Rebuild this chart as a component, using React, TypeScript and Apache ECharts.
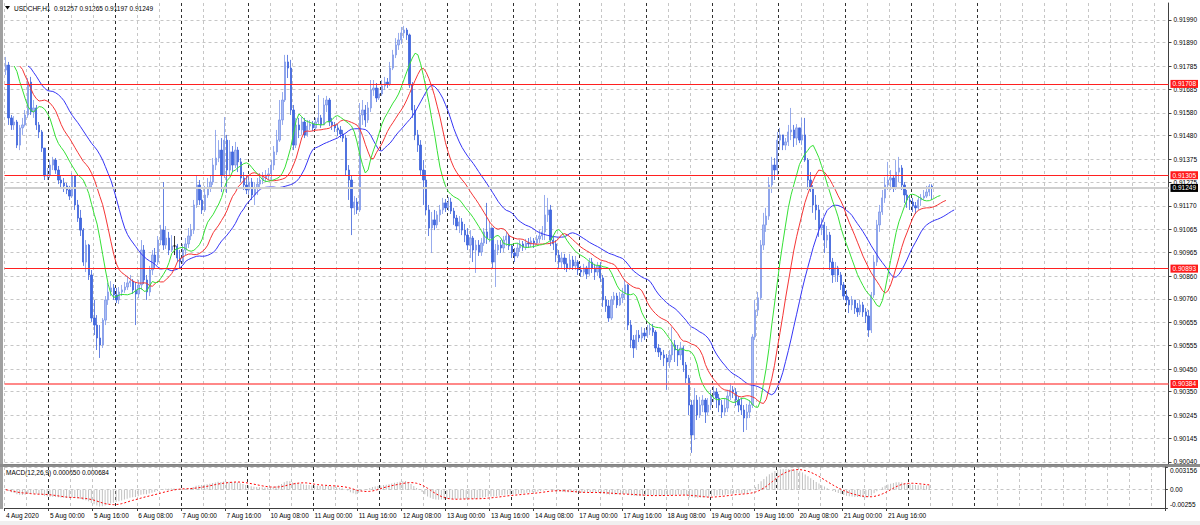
import React, { useEffect, useRef } from "react";
import * as echarts from "echarts";

const SYMBOL_TITLE = "USDCHF,H1  0.91257 0.91265 0.91197 0.91249";
const MACD_TITLE = "MACD(12,26,9) 0.000650 0.000684";

const TIME_LABELS = [
  "4 Aug 2020", "5 Aug 00:00", "5 Aug 16:00", "6 Aug 08:00", "7 Aug 00:00", "7 Aug 16:00",
  "10 Aug 08:00", "11 Aug 00:00", "11 Aug 16:00", "12 Aug 08:00", "13 Aug 00:00", "13 Aug 16:00",
  "14 Aug 08:00", "17 Aug 00:00", "17 Aug 16:00", "18 Aug 08:00", "19 Aug 00:00", "19 Aug 16:00",
  "20 Aug 08:00", "21 Aug 00:00", "21 Aug 16:00",
];
const LABEL_EVERY = 16; // bars between time labels
const TOTAL_SLOTS = 421; // bars + chart shift area

const Y_TICKS = [
  0.9004, 0.90145, 0.90245, 0.9035, 0.9045, 0.90555, 0.90655, 0.9076, 0.9086, 0.90965,
  0.91065, 0.9117, 0.91275, 0.91375, 0.9148, 0.9158, 0.91685, 0.91785, 0.9189, 0.9199,
];
const Y_MIN = 0.90031;
const Y_MAX = 0.92065;
const LEVELS = [0.91708, 0.91305, 0.90893, 0.90384];
const BID = 0.91249;
const MACD_TICKS = [-0.00255, 0, 0.003156];
const MACD_TICK_LABELS = ["-0.00255", "0.00", "0.003156"];

// prices in points (1e-5)
const OPEN_PTS = [
  91769, 91791, 91558, 91527, 91540, 91438, 91514, 91527, 91571, 91716, 91584, 91602, 91527, 91496, 91425, 91302, 91306, 91350, 91372, 91328, 91284, 91271, 91258, 91240,
  91213, 91302, 91174, 91116, 91063, 90922, 90997, 90865, 90675, 90644, 90587, 90556, 90666, 90755, 90790, 90808, 90777, 90755, 90790, 90799, 90812, 90830, 90838, 90799,
  90781, 90821, 90975, 90843, 90790, 90887, 90953, 90922, 91019, 91063, 90997, 91028, 90975, 90993, 90993, 90940, 90922, 90975, 91002, 91037, 91063, 91174, 91262, 91196,
  91152, 91218, 91253, 91275, 91350, 91381, 91416, 91306, 91460, 91328, 91408, 91350, 91416, 91364, 91293, 91262, 91240, 91275, 91218, 91249, 91266, 91284, 91293, 91302,
  91311, 91350, 91408, 91460, 91549, 91637, 91805, 91778, 91593, 91438, 91527, 91505, 91540, 91483, 91522, 91531, 91514, 91540, 91558, 91527, 91615, 91637, 91540, 91527,
  91514, 91505, 91487, 91469, 91328, 91284, 91161, 91187, 91152, 91571, 91593, 91549, 91602, 91681, 91690, 91646, 91664, 91699, 91716, 91708, 91778, 91836, 91880, 91902,
  91933, 91946, 91924, 91703, 91593, 91483, 91438, 91328, 91284, 91152, 91072, 91108, 91086, 91130, 91152, 91183, 91161, 91187, 91147, 91116, 91081, 91099, 91063, 91041,
  90997, 91028, 90975, 90997, 90966, 91006, 91055, 91028, 91072, 90922, 90975, 90997, 90984, 91019, 91037, 90993, 90962, 90949, 90984, 91002, 90988, 91006, 91002, 91015,
  91006, 91024, 91037, 91055, 91130, 91152, 91019, 91002, 90953, 90922, 90940, 90914, 90896, 90931, 90905, 90922, 90887, 90878, 90896, 90869, 90922, 90896, 90878, 90905,
  90852, 90755, 90728, 90675, 90755, 90772, 90733, 90764, 90781, 90821, 90644, 90578, 90543, 90600, 90587, 90609, 90596, 90622, 90631, 90613, 90543, 90525, 90512, 90499,
  90481, 90512, 90556, 90534, 90512, 90543, 90468, 90410, 90291, 90159, 90313, 90247, 90291, 90313, 90260, 90291, 90335, 90349, 90322, 90291, 90260, 90278, 90331, 90358,
  90349, 90313, 90291, 90269, 90234, 90260, 90291, 90591, 90710, 90764, 90997, 91086, 91125, 91262, 91350, 91328, 91460, 91483, 91438, 91452, 91496, 91505, 91469, 91514,
  91460, 91483, 91372, 91284, 91249, 91174, 91152, 91072, 91086, 91019, 91041, 90922, 90865, 90896, 90865, 90821, 90772, 90755, 90733, 90755, 90719, 90702, 90733, 90702,
  90684, 90622, 90777, 90922, 91086, 91143, 91205, 91262, 91284, 91293, 91249, 91319, 91337, 91262, 91218, 91196, 91187, 91170, 91161, 91196, 91205, 91213, 91231, 91257,
];
const HIGH_PTS = [
  91827, 91805, 91571, 91566, 91549, 91527, 91558, 91593, 91734, 91739, 91637, 91615, 91540, 91505, 91425, 91337, 91372, 91386, 91381, 91346, 91302, 91293, 91271, 91258,
  91315, 91306, 91196, 91152, 91072, 91019, 91002, 90887, 90755, 90688, 90644, 90675, 90772, 90830, 90838, 90825, 90808, 90812, 90821, 90834, 90861, 90865, 90847, 90834,
  90843, 91019, 90997, 90865, 90905, 90975, 90984, 91037, 91086, 91275, 91081, 91055, 91041, 91037, 91002, 90975, 91002, 91028, 91072, 91090, 91196, 91306, 91284, 91240,
  91258, 91293, 91302, 91381, 91505, 91460, 91469, 91562, 91483, 91460, 91434, 91452, 91430, 91381, 91319, 91306, 91302, 91293, 91275, 91293, 91315, 91319, 91328, 91337,
  91372, 91434, 91505, 91637, 91672, 91836, 91836, 91814, 91615, 91558, 91558, 91562, 91558, 91549, 91549, 91544, 91558, 91659, 91571, 91646, 91655, 91646, 91558, 91540,
  91531, 91522, 91505, 91483, 91350, 91306, 91213, 91205, 91624, 91637, 91615, 91628, 91725, 91725, 91712, 91690, 91725, 91739, 91734, 91805, 91858, 91910, 91933, 91959,
  91964, 91955, 91930, 91716, 91615, 91505, 91460, 91372, 91328, 91174, 91143, 91152, 91147, 91174, 91205, 91200, 91209, 91205, 91161, 91130, 91125, 91116, 91090, 91072,
  91063, 91037, 91019, 91019, 91028, 91072, 91183, 91099, 91072, 91002, 91019, 91019, 91037, 91055, 91046, 91002, 90984, 91006, 91019, 91015, 91024, 91028, 91033, 91028,
  91041, 91063, 91081, 91218, 91205, 91174, 91037, 91019, 90975, 90966, 90958, 90940, 90958, 90949, 90949, 90931, 90905, 90914, 90905, 90940, 90940, 90914, 90922, 90922,
  90865, 90772, 90755, 90772, 90790, 90786, 90790, 90808, 90843, 90825, 90666, 90600, 90622, 90622, 90635, 90631, 90644, 90653, 90649, 90622, 90560, 90543, 90534, 90516,
  90534, 90635, 90578, 90556, 90569, 90552, 90481, 90424, 90313, 90366, 90335, 90327, 90335, 90322, 90322, 90358, 90375, 90366, 90340, 90313, 90322, 90358, 90388, 90375,
  90366, 90331, 90322, 90291, 90296, 90313, 90604, 90755, 90790, 91019, 91139, 91161, 91297, 91386, 91381, 91496, 91514, 91478, 91469, 91527, 91602, 91527, 91531, 91505,
  91558, 91558, 91381, 91319, 91262, 91218, 91174, 91116, 91099, 91081, 91055, 90940, 90922, 90905, 90878, 90834, 90799, 90768, 90772, 90755, 90741, 90755, 90746, 90719,
  90710, 90790, 90953, 91108, 91174, 91240, 91297, 91364, 91328, 91306, 91372, 91386, 91350, 91275, 91240, 91213, 91205, 91187, 91213, 91222, 91240, 91258, 91266, 91265,
];
const LOW_PTS = [
  91747, 91527, 91505, 91505, 91425, 91416, 91483, 91520, 91558, 91571, 91558, 91505, 91469, 91408, 91284, 91284, 91293, 91328, 91311, 91266, 91249, 91231, 91222, 91196,
  91205, 91152, 91099, 91037, 90905, 90878, 90843, 90658, 90600, 90534, 90499, 90543, 90644, 90733, 90772, 90755, 90741, 90737, 90772, 90786, 90799, 90812, 90781, 90644,
  90763, 90799, 90825, 90755, 90772, 90865, 90896, 90909, 90997, 90975, 90980, 90953, 90966, 90953, 90922, 90896, 90914, 90953, 90984, 91019, 91046, 91161, 91174, 91134,
  91143, 91205, 91231, 91262, 91328, 91363, 91231, 91293, 91227, 91306, 91319, 91337, 91319, 91275, 91240, 91222, 91218, 91196, 91174, 91218, 91249, 91266, 91275, 91284,
  91284, 91328, 91394, 91452, 91527, 91628, 91734, 91571, 91416, 91425, 91469, 91483, 91469, 91475, 91505, 91500, 91505, 91527, 91514, 91527, 91584, 91522, 91505, 91496,
  91478, 91469, 91452, 91306, 91196, 91041, 91130, 91134, 91143, 91527, 91518, 91536, 91584, 91655, 91628, 91637, 91655, 91681, 91690, 91699, 91769, 91822, 91858, 91884,
  91910, 91902, 91690, 91558, 91460, 91408, 91306, 91174, 91130, 91037, 90962, 91063, 91072, 91099, 91134, 91143, 91147, 91134, 91086, 91063, 91050, 91041, 91010, 90975,
  90940, 90922, 90874, 90949, 90949, 90993, 91002, 91010, 90896, 90812, 90953, 90962, 90966, 90993, 90975, 90940, 90922, 90940, 90966, 90971, 90975, 90984, 90988, 90984,
  90997, 91006, 91019, 91019, 91099, 90993, 90975, 90922, 90896, 90896, 90887, 90878, 90887, 90887, 90887, 90865, 90856, 90861, 90847, 90861, 90874, 90843, 90861, 90834,
  90724, 90702, 90658, 90666, 90733, 90719, 90728, 90741, 90755, 90622, 90543, 90499, 90534, 90569, 90569, 90578, 90587, 90600, 90596, 90525, 90503, 90490, 90463, 90358,
  90455, 90490, 90481, 90463, 90490, 90437, 90388, 90247, 90080, 90137, 90225, 90234, 90260, 90212, 90247, 90269, 90304, 90278, 90260, 90234, 90243, 90260, 90313, 90322,
  90287, 90260, 90247, 90172, 90181, 90234, 90278, 90578, 90684, 90755, 90975, 91055, 91108, 91227, 91284, 91306, 91416, 91416, 91416, 91434, 91460, 91430, 91438, 91447,
  91438, 91364, 91240, 91231, 91139, 91108, 91033, 91041, 90962, 90984, 90887, 90830, 90834, 90834, 90799, 90755, 90733, 90697, 90710, 90693, 90680, 90688, 90680, 90653,
  90591, 90609, 90764, 90905, 91055, 91130, 91183, 91240, 91240, 91231, 91240, 91275, 91240, 91183, 91161, 91152, 91143, 91134, 91152, 91170, 91196, 91205, 91213, 91197,
];
const CLOSE_PTS = [
  91791, 91558, 91527, 91540, 91438, 91514, 91527, 91571, 91716, 91584, 91602, 91527, 91496, 91425, 91302, 91306, 91350, 91372, 91328, 91284, 91271, 91258, 91240, 91213,
  91302, 91174, 91116, 91063, 90922, 90997, 90865, 90675, 90644, 90587, 90556, 90666, 90755, 90790, 90808, 90777, 90755, 90790, 90799, 90812, 90830, 90838, 90799, 90781,
  90821, 90975, 90843, 90790, 90887, 90953, 90922, 91019, 91063, 90997, 91028, 90975, 90993, 90993, 90940, 90922, 90975, 91002, 91037, 91063, 91174, 91262, 91196, 91152,
  91218, 91253, 91275, 91350, 91381, 91416, 91306, 91460, 91328, 91408, 91350, 91416, 91364, 91293, 91262, 91240, 91275, 91218, 91249, 91266, 91284, 91293, 91302, 91311,
  91350, 91408, 91460, 91549, 91637, 91805, 91778, 91593, 91438, 91527, 91505, 91540, 91483, 91522, 91531, 91514, 91540, 91558, 91527, 91615, 91637, 91540, 91527, 91514,
  91505, 91487, 91469, 91328, 91284, 91161, 91187, 91152, 91571, 91593, 91549, 91602, 91681, 91690, 91646, 91664, 91699, 91716, 91708, 91778, 91836, 91880, 91902, 91933,
  91946, 91924, 91703, 91593, 91483, 91438, 91328, 91284, 91152, 91072, 91108, 91086, 91130, 91152, 91183, 91161, 91187, 91147, 91116, 91081, 91099, 91063, 91041, 90997,
  91028, 90975, 90997, 90966, 91006, 91055, 91028, 91072, 90922, 90975, 90997, 90984, 91019, 91037, 90993, 90962, 90949, 90984, 91002, 90988, 91006, 91002, 91015, 91006,
  91024, 91037, 91055, 91130, 91152, 91019, 91002, 90953, 90922, 90940, 90914, 90896, 90931, 90905, 90922, 90887, 90878, 90896, 90869, 90922, 90896, 90878, 90905, 90852,
  90755, 90728, 90675, 90755, 90772, 90733, 90764, 90781, 90821, 90644, 90578, 90543, 90600, 90587, 90609, 90596, 90622, 90631, 90613, 90543, 90525, 90512, 90499, 90481,
  90512, 90556, 90534, 90512, 90543, 90468, 90410, 90291, 90159, 90313, 90247, 90291, 90313, 90260, 90291, 90335, 90349, 90322, 90291, 90260, 90278, 90331, 90358, 90349,
  90313, 90291, 90269, 90234, 90260, 90291, 90591, 90710, 90764, 90997, 91086, 91125, 91262, 91350, 91328, 91460, 91483, 91438, 91452, 91496, 91505, 91469, 91514, 91460,
  91483, 91372, 91284, 91249, 91174, 91152, 91072, 91086, 91019, 91041, 90922, 90865, 90896, 90865, 90821, 90772, 90755, 90733, 90755, 90719, 90702, 90733, 90702, 90684,
  90622, 90777, 90922, 91086, 91143, 91205, 91262, 91284, 91293, 91249, 91319, 91337, 91262, 91218, 91196, 91187, 91170, 91161, 91196, 91205, 91213, 91231, 91257, 91249,
];

const FONT = "Liberation Sans";
const FS = 6.5;

const toPrice = (p: number) => p / 1e5;

function smma(src: number[], n: number) {
  const out: number[] = [];
  let v = src[0];
  src.forEach((p, i) => {
    v = i === 0 ? p : (v * (n - 1) + p) / n;
    out.push(v);
  });
  return out;
}
function ema(src: number[], n: number) {
  const k = 2 / (n + 1);
  const out: number[] = [];
  let v = src[0];
  src.forEach((p, i) => {
    v = i === 0 ? p : v + k * (p - v);
    out.push(v);
  });
  return out;
}
function shifted(vals: number[], shift: number) {
  const out: (number | null)[] = new Array(TOTAL_SLOTS).fill(null);
  vals.forEach((v, i) => {
    if (i + shift < TOTAL_SLOTS) out[i + shift] = v;
  });
  return out;
}

function priceLabel(v: number, bg: string) {
  return {
    show: true,
    position: "end",
    distance: 2,
    formatter: () => v.toFixed(5),
    color: "#fff",
    backgroundColor: bg,
    padding: [1, 2, 0, 2],
    fontSize: FS,
    fontFamily: FONT,
  };
}

function buildOption() {
  const n = CLOSE_PTS.length;
  const open = OPEN_PTS.slice(0, n).map(toPrice);
  const high = HIGH_PTS.slice(0, n).map(toPrice);
  const low = LOW_PTS.slice(0, n).map(toPrice);
  const close = CLOSE_PTS.map(toPrice);
  const candles = close.map((c, i) => [open[i], c, low[i], high[i]]);

  const median = high.map((h, i) => (h + low[i]) / 2);
  const jaw = shifted(smma(median, 13), 8);
  const teeth = shifted(smma(median, 8), 5);
  const lips = shifted(smma(median, 5), 3);

  const e12 = ema(close, 12);
  const e26 = ema(close, 26);
  const macd = e12.map((v, i) => v - e26[i]);
  const signal = macd.map((_, i) => {
    const s = Math.max(0, i - 8);
    const w = macd.slice(s, i + 1);
    return w.reduce((a, b) => a + b, 0) / w.length;
  });

  const cats = Array.from({ length: TOTAL_SLOTS }, (_, i) => String(i));
  const isDark = (i: number) => i >= 16 && i <= 352 && (i - 16) % 24 === 0;
  const isGray = (i: number) => i % 8 === 0 && !isDark(i);
  const isLabel = (i: number) => i % LABEL_EVERY === 0 && i / LABEL_EVERY < TIME_LABELS.length;

  const grayLine = { color: "#c6c6c6", type: [3, 3] as any, width: 1 };
  const darkLine = { color: "#303030", type: [3, 3] as any, width: 1 };

  const mkX = (grid: number, dark: boolean, labels: boolean) => ({
    type: "category",
    gridIndex: grid,
    data: cats,
    boundaryGap: true,
    position: dark ? "top" : "bottom",
    axisLine: {
      show: !dark,
      onZero: false,
      lineStyle: { color: grid === 0 ? "#808080" : "#404040", width: 1 },
    },
    axisTick: {
      show: labels,
      interval: (i: number) => isLabel(i),
      length: 3,
      lineStyle: { color: "#404040" },
    },
    axisLabel: {
      show: labels,
      interval: (i: number) => isLabel(i),
      formatter: (_v: string, i: number) => (isLabel(i) ? TIME_LABELS[i / LABEL_EVERY] : ""),
      align: "left",
      fontSize: FS,
      fontFamily: FONT,
      color: "#000",
      margin: 4,
    },
    splitLine: {
      show: true,
      interval: (i: number) => (dark ? isDark(i) : isGray(i)),
      lineStyle: dark ? darkLine : grayLine,
    },
  });

  const levelData = [
    {
      yAxis: BID,
      lineStyle: { color: "#cfcfcf", width: 2, type: "solid" },
      label: priceLabel(BID, "#000"),
    },
    ...LEVELS.map((v, i) => ({
      yAxis: v,
      lineStyle: { color: i === 3 ? "#ff6060" : "#ff2020", width: i === 3 ? 1.6 : 1, type: "solid" },
      label: priceLabel(v, "#ff1a1a"),
    })),
  ];

  return {
    animation: false,
    backgroundColor: "#ffffff",
    grid: [
      { left: 4.5, right: 28, top: 3, height: 461 },
      { left: 4.5, right: 28, top: 467, height: 41 },
    ],
    xAxis: [mkX(0, false, false), mkX(0, true, false), mkX(1, false, true), mkX(1, true, false)],
    yAxis: [
      {
        type: "value",
        gridIndex: 0,
        position: "right",
        min: Y_MIN,
        max: Y_MAX,
        axisLine: { show: true, lineStyle: { color: "#404040", width: 1 } },
        axisTick: { show: true, customValues: Y_TICKS, length: 3, lineStyle: { color: "#404040" } },
        axisLabel: {
          customValues: Y_TICKS,
          formatter: (v: number) => v.toFixed(5),
          fontSize: FS,
          fontFamily: FONT,
          color: "#000",
          margin: 5,
        },
        splitLine: { show: true, lineStyle: grayLine },
      },
      {
        type: "value",
        gridIndex: 1,
        position: "right",
        min: MACD_TICKS[0],
        max: MACD_TICKS[2],
        axisLine: { show: true, lineStyle: { color: "#404040", width: 1 } },
        axisTick: { show: true, customValues: MACD_TICKS, length: 3, lineStyle: { color: "#404040" } },
        axisLabel: {
          customValues: MACD_TICKS,
          formatter: (v: number) => {
            const j = MACD_TICKS.findIndex((t) => Math.abs(t - v) < 1e-9);
            const s = j >= 0 ? MACD_TICK_LABELS[j] : String(v);
            if (j === 2) return "{t|" + s + "}";
            if (j === 0) return "{b|" + s + "}";
            return s;
          },
          rich: {
            t: { padding: [7, 0, 0, 0], fontSize: FS, fontFamily: FONT, color: "#000" },
            b: { padding: [0, 0, 7, 0], fontSize: FS, fontFamily: FONT, color: "#000" },
          },
          fontSize: FS,
          fontFamily: FONT,
          color: "#000",
          margin: 5,
        },
        splitLine: { show: true, lineStyle: grayLine },
      },
    ],
    series: [
      {
        type: "candlestick",
        xAxisIndex: 0,
        yAxisIndex: 0,
        data: candles,
        barWidth: 1.8,
        silent: true,
        itemStyle: {
          color: "#a9bbf2",
          color0: "#4169e1",
          borderColor: "#7e97e9",
          borderColor0: "#3d62da",
          borderColorDoji: "#000000",
          borderWidth: 0.8,
        },
      },
      {
        type: "line",
        name: "Levels",
        xAxisIndex: 0,
        yAxisIndex: 0,
        data: [],
        symbol: "none",
        silent: true,
        z: 4,
        markLine: {
          silent: true,
          symbol: "none",
          animation: false,
          precision: 5,
          data: levelData,
        },
      },
      {
        type: "line",
        name: "Jaw",
        xAxisIndex: 0,
        yAxisIndex: 0,
        data: jaw,
        symbol: "none",
        silent: true,
        lineStyle: { color: "#3535f5", width: 1 },
      },
      {
        type: "line",
        name: "Teeth",
        xAxisIndex: 0,
        yAxisIndex: 0,
        data: teeth,
        symbol: "none",
        silent: true,
        lineStyle: { color: "#f53535", width: 1 },
      },
      {
        type: "line",
        name: "Lips",
        xAxisIndex: 0,
        yAxisIndex: 0,
        data: lips,
        symbol: "none",
        silent: true,
        lineStyle: { color: "#35e035", width: 1 },
      },
      {
        type: "bar",
        xAxisIndex: 2,
        yAxisIndex: 1,
        data: macd,
        barWidth: 1,
        silent: true,
        itemStyle: { color: "#c0c0c0" },
      },
      {
        type: "line",
        xAxisIndex: 2,
        yAxisIndex: 1,
        data: signal,
        symbol: "none",
        silent: true,
        lineStyle: { color: "#ff0000", width: 1, type: [2, 2] },
      },
    ],
    graphic: [
      { type: "rect", silent: true, shape: { x: 0, y: 0, width: 3, height: 509 }, style: { fill: "#a0a0a0" } },
      { type: "rect", silent: true, shape: { x: 0, y: 464, width: 1200, height: 3 }, style: { fill: "#8c8c8c" } },
      { type: "rect", silent: true, shape: { x: 0, y: 521, width: 1200, height: 4 }, style: { fill: "#f0f0f0" } },
      { type: "polygon", silent: true, shape: { points: [[5, 6], [10, 6], [7.5, 9.5]] }, style: { fill: "#000" } },
      {
        type: "text",
        silent: true,
        x: 14,
        y: 8,
        style: { text: SYMBOL_TITLE, fontSize: FS, fontFamily: FONT, fill: "#000", verticalAlign: "middle" },
      },
      {
        type: "text",
        silent: true,
        x: 6,
        y: 472,
        style: { text: MACD_TITLE, fontSize: FS, fontFamily: FONT, fill: "#000", verticalAlign: "middle" },
      },
    ],
  };
}

export default function App() {
  const ref = useRef<HTMLDivElement>(null);
  useEffect(() => {
    if (!ref.current) return;
    const chart = echarts.init(ref.current, null, { renderer: "svg" });
    chart.setOption(buildOption() as any);
    return () => chart.dispose();
  }, []);
  return (
    <div
      ref={ref}
      style={{ position: "absolute", left: 0, top: 0, width: 1200, height: 525, background: "#fff" }}
    />
  );
}
